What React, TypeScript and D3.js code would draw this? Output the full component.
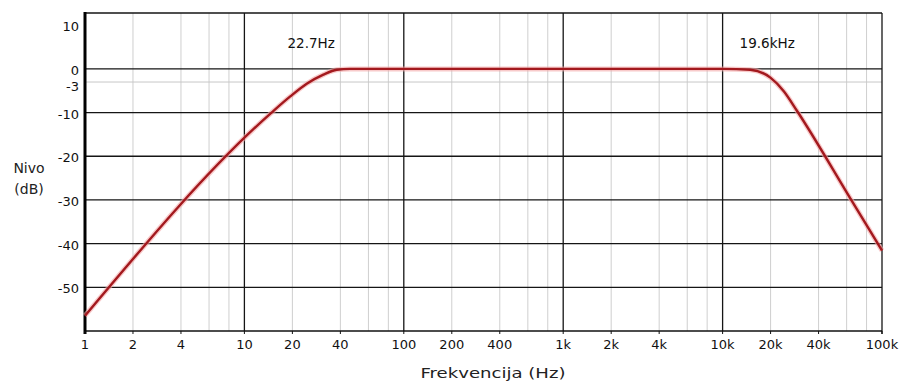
import * as d3 from "d3";
import React from "react";

// frequency response (Hz, dB)
const freqHz = [1, 14.8, 19.4, 24.6, 31.3, 38, 46, 1000, 10000, 14900, 19950, 24200, 29400, 63400, 100000];
const levelDb = [-56.5, -10, -6.3, -3.4, -1.3, -0.2, 0, 0, 0, -0.2, -2, -5.1, -9.7, -29.7, -41.6];

const xTickValues = [1, 2, 4, 10, 20, 40, 100, 200, 400, 1000, 2000, 4000, 10000, 20000, 40000, 100000];
const xTickLabels = ["1", "2", "4", "10", "20", "40", "100", "200", "400", "1k", "2k", "4k", "10k", "20k", "40k", "100k"];
const yTickValues = [10, 0, -3, -10, -20, -30, -40, -50];
const yMajorLines = [0, -10, -20, -30, -40, -50];
const cutoffFreqs = [22.7, 19600];
const cutoffLabels = ["22.7Hz", "19.6kHz"];
const labelDx = [10, -2];

const width = 903;
const height = 385;
const left = 85;
const right = 882;
const top = 13;
const bottom = 331;
const font = "'DejaVu Sans', Verdana, sans-serif";

const App = () => {
  const x = d3.scaleLog().domain([1, 100000]).range([left, right]);
  const y = d3.scaleLinear().domain([-60, 12.8]).range([bottom, top]);

  const decades = d3.range(0, 5).map((k) => Math.pow(10, k));
  const minor = decades.flatMap((d) => [2, 4, 6, 8].map((m) => m * d));

  const line = d3
    .line<number>()
    .x((_, i) => x(freqHz[i]))
    .y((d) => y(d))
    .curve(d3.curveMonotoneX);
  const path = line(levelDb) || "";

  return (
    <svg
      width={width}
      height={height}
      style={{ position: "absolute", left: 0, top: 0, background: "#fff" }}
      fontFamily={font}
    >
      <rect width={width} height={height} fill="#fff" />
      {minor.map((f) => (
        <line key={"mn" + f} x1={x(f)} x2={x(f)} y1={top} y2={bottom} stroke="#cfcfcf" strokeWidth={1} />
      ))}
      <line x1={left} x2={right} y1={y(-3)} y2={y(-3)} stroke="#c8c8c8" strokeWidth={1} />
      {decades.slice(1).map((f) => (
        <line key={"mj" + f} x1={x(f)} x2={x(f)} y1={top} y2={bottom} stroke="#151515" strokeWidth={1.3} />
      ))}
      {yMajorLines.map((v) => (
        <line key={"h" + v} x1={left} x2={right} y1={y(v)} y2={y(v)} stroke="#151515" strokeWidth={1.3} />
      ))}
      <line x1={left} x2={right} y1={top} y2={top} stroke="#151515" strokeWidth={1.3} />
      <line x1={right} x2={right} y1={top} y2={bottom + 3} stroke="#151515" strokeWidth={1.3} />
      <line x1={left} x2={right} y1={bottom} y2={bottom} stroke="#111" strokeWidth={1.4} />
      <line x1={left} x2={left} y1={top - 1} y2={bottom + 3} stroke="#000" strokeWidth={3} />

      {xTickValues.map((v, i) => (
        <g key={"xt" + v}>
          <line x1={x(v)} x2={x(v)} y1={bottom} y2={bottom + 3} stroke="#111" strokeWidth={1} />
          <text x={x(v)} y={bottom + 18} fontSize={13} textAnchor="middle" fill="#111">
            {xTickLabels[i]}
          </text>
        </g>
      ))}
      {yTickValues.map((v) => (
        <text
          key={"yt" + v}
          x={left - 6}
          y={Math.max(y(v), top + 6) + (v === -3 ? 4 : 1.5)}
          fontSize={13}
          textAnchor="end"
          dominantBaseline="central"
          fill="#111"
        >
          {v}
        </text>
      ))}

      <path d={path} fill="none" stroke="#f3a7a7" strokeWidth={5} strokeOpacity={0.6} />
      <path d={path} fill="none" stroke="#a3191e" strokeWidth={2.4} />

      {cutoffFreqs.map((f, i) => (
        <text key={"c" + f} x={x(f) + labelDx[i]} y={48} fontSize={13.5} textAnchor="middle" fill="#111">
          {cutoffLabels[i]}
        </text>
      ))}

      <text x={29} y={173} fontSize={14} textAnchor="middle" fill="#222">Nivo</text>
      <text x={29} y={194} fontSize={14} textAnchor="middle" fill="#222">(dB)</text>
      <text
        x={493}
        y={378}
        fontSize={14}
        textAnchor="middle"
        textLength={145}
        lengthAdjust="spacingAndGlyphs"
        fill="#222"
      >
        Frekvencija (Hz)
      </text>
    </svg>
  );
};

export default App;
